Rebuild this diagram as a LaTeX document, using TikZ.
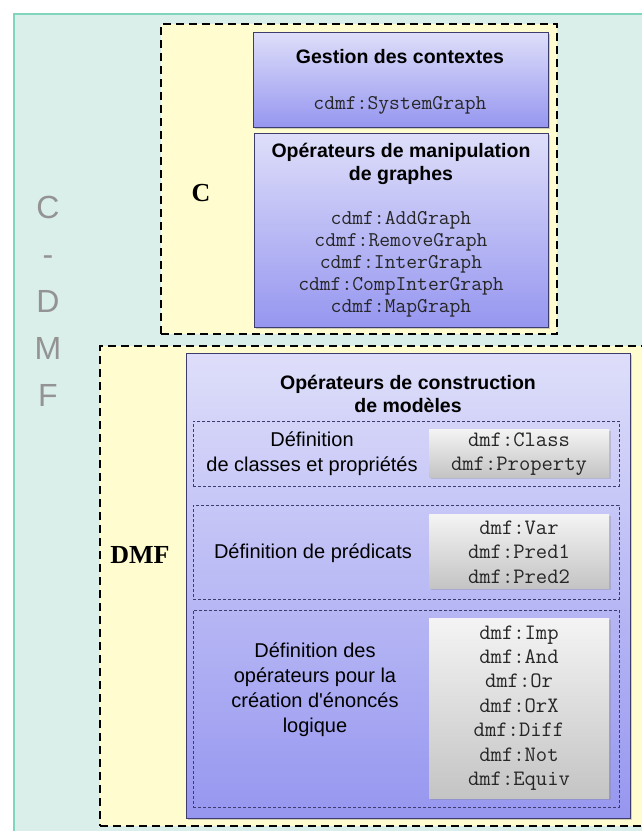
\documentclass[tikz,border=0pt]{standalone}
\usepackage{fontspec}
\setmainfont{Liberation Serif}
\setsansfont{Liberation Sans}
\usetikzlibrary{positioning, shadows}

\definecolor{cdmfbg}{HTML}{DAEFEA}
\definecolor{cdmfedge}{HTML}{7FD6BC}
\definecolor{zonebg}{HTML}{FFFCCF}
\definecolor{optop}{HTML}{DEDEFA}
\definecolor{opbot}{HTML}{9696F0}
\definecolor{opedge}{HTML}{3C3C6E}
\definecolor{listtop}{HTML}{F4F4F4}
\definecolor{listbot}{HTML}{C4C4C4}
\definecolor{lettergray}{HTML}{939393}
\definecolor{codegray}{HTML}{262626}

\begin{document}
\begin{tikzpicture}[x=1pt, y=-1pt,
		cdmfzone/.style={rectangle, draw=cdmfedge, line width=1.5pt, fill=cdmfbg, anchor=north west, inner sep=0pt},
		zone/.style={rectangle, draw, fill=zonebg, line width=2.2pt, dash pattern=on 8pt off 5pt, anchor=north west, inner sep=0pt},
		opbox/.style={rectangle, draw=opedge, line width=0.9pt, top color=optop, bottom color=opbot, anchor=north west, inner sep=0pt,
			drop shadow={shadow xshift=2pt, shadow yshift=-2pt, opacity=0.35}},
		defzone/.style={rectangle, draw=opedge, line width=0.8pt, dash pattern=on 3pt off 2pt, anchor=north west, inner sep=0pt},
		listbox/.style={rectangle, top color=listtop, bottom color=listbot, anchor=north west, inner sep=0pt,
			drop shadow={shadow xshift=2pt, shadow yshift=-2pt, opacity=0.3}},
		titre/.style={align=center, font=\sffamily\bfseries\fontsize{19.5}{23}\selectfont},
		deftext/.style={align=center, font=\sffamily\fontsize{20}{25}\selectfont},
		code/.style={align=center, text=codegray, font=\ttfamily\fontsize{21}{22}\selectfont},
		dmfcode/.style={align=center, text=codegray, font=\ttfamily\fontsize{22}{24.4}\selectfont},
		zonelabel/.style={font=\bfseries\fontsize{26}{28}\selectfont},
		letters/.style={align=center, text=lettergray, font=\sffamily\fontsize{32}{47}\selectfont}
	]

	\path[use as bounding box, clip] (0,0) rectangle (642,831);

	% fond C-DMF
	\node[cdmfzone, minimum width=700pt, minimum height=900pt] (cdmf) at (13,13) {};
	\node[letters] (cdmflabel) at (48,301) {C\\-\\D\\M\\F};

	% zone C
	\node[zone, minimum width=396pt, minimum height=310pt] (czone) at (160,23) {};
	\node[zonelabel] (clabel) at (201,193) {C};

	\node[opbox, minimum width=295pt, minimum height=95pt] (gestion) at (253,32) {};
	\node[titre] (gestiontitre) at (400,57) {Gestion des contextes};
	\node[code] (gestioncode) at (400,105) {cdmf:SystemGraph};

	\node[opbox, minimum width=294pt, minimum height=194pt] (manip) at (254,133) {};
	\node[titre] (maniptitre) at (401,164) {Opérateurs de manipulation\\de graphes};
	\node[code] (manipcode) at (401,264) {cdmf:AddGraph\\cdmf:RemoveGraph\\cdmf:InterGraph\\cdmf:CompInterGraph\\cdmf:MapGraph};

	% zone DMF
	\node[zone, minimum width=600pt, minimum height=480pt] (dmfzone) at (99,345) {};
	\node[zonelabel] (dmflabel) at (140,555) {DMF};

	\node[opbox, minimum width=444pt, minimum height=465pt] (constr) at (186,353) {};
	\node[titre] (constrtitre) at (408,394) {Opérateurs de construction\\de modèles};

	\foreach \n/\y/\h in {1/421/65, 2/505/94, 3/610/197}
		\node[defzone, minimum width=426pt, minimum height=\h pt] (def\n) at (193,\y) {};

	\node[listbox, minimum width=180pt, minimum height=48pt] (list1) at (429,429) {};
	\node[listbox, minimum width=180pt, minimum height=74pt] (list2) at (429,514) {};
	\node[listbox, minimum width=180pt, minimum height=180pt] (list3) at (429,618) {};

	\node[deftext] (deftext1) at (312,454) {Définition\\de classes et propriétés};
	\node[deftext] (deftext2) at (313,553) {Définition de prédicats};
	\node[deftext] (deftext3) at (315,690) {Définition des\\opérateurs pour la\\création d\textquotesingle énoncés\\logique};

	\node[dmfcode] (listcode1) at (519,454) {dmf:Class\\dmf:Property};
	\node[dmfcode] (listcode2) at (519,552) {dmf:Var\\dmf:Pred1\\dmf:Pred2};
	\node[dmfcode] (listcode3) at (519,708) {dmf:Imp\\dmf:And\\dmf:Or\\dmf:OrX\\dmf:Diff\\dmf:Not\\dmf:Equiv};

\end{tikzpicture}
\end{document}
